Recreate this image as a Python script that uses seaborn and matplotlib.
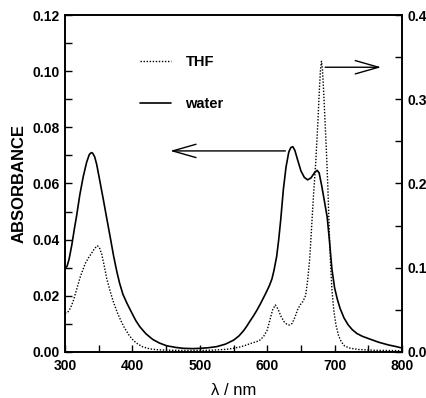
import matplotlib
matplotlib.use("Agg")
import matplotlib.pyplot as plt
import seaborn as sns
from matplotlib.ticker import MultipleLocator, FormatStrFormatter

# spettri: water sull'asse sinistro, THF sull'asse destro
water_nm = [300, 303, 306, 310, 314, 317, 322, 327, 332, 336, 339, 341, 344, 347, 352, 357,
            362, 367, 372, 377, 381, 386, 392, 400, 405, 411, 420, 430, 440, 451, 465, 476,
            490, 500, 512, 525, 538, 550, 558, 565, 570, 575, 580, 585, 590, 597, 603, 607,
            610, 614, 617, 620, 624, 628, 632, 635, 638, 641, 645, 650, 655, 660, 665, 670,
            674, 677, 681, 685, 689, 692, 696, 700, 704, 708, 714, 720, 726, 733, 741, 750,
            765, 780, 790, 800]
water_abs = [0.0298, 0.0305, 0.0330, 0.0380, 0.0440, 0.0482, 0.0560, 0.0624, 0.0675, 0.0703,
             0.0710, 0.0708, 0.0695, 0.0668, 0.0605, 0.0541, 0.0475, 0.0410, 0.0343, 0.0285,
             0.0245, 0.0205, 0.0173, 0.0135, 0.0112, 0.0090, 0.0065, 0.0045, 0.0032, 0.0022,
             0.0016, 0.0013, 0.0012, 0.0013, 0.0015, 0.0019, 0.0028, 0.0042, 0.0057, 0.0076,
             0.0093, 0.0112, 0.0130, 0.0150, 0.0172, 0.0205, 0.0235, 0.0260, 0.0290, 0.0340,
             0.0399, 0.0470, 0.0580, 0.0660, 0.0712, 0.0728, 0.0731, 0.0718, 0.0685, 0.0645,
             0.0622, 0.0613, 0.0620, 0.0638, 0.0647, 0.0638, 0.0590, 0.0535, 0.0480, 0.0405,
             0.0295, 0.0228, 0.0188, 0.0156, 0.0121, 0.0097, 0.0080, 0.0066, 0.0056, 0.0048,
             0.0035, 0.0025, 0.0020, 0.0014]

thf_nm = [300, 304, 308, 312, 317, 323, 330, 335, 340, 344, 348, 351, 354.5, 358, 362, 367,
          372, 378, 383, 388, 395, 400, 406, 415, 426, 440, 460, 480, 500, 520, 540, 550,
          560, 568, 575, 585, 590, 595, 600, 604, 608, 612, 616, 620, 625, 629, 633, 637,
          641, 645, 649, 653, 657, 660, 663, 666, 669, 672, 675, 677, 679, 680.5, 682, 684,
          686, 688, 690, 692, 694, 696, 699, 702, 706, 710, 715, 723, 735, 760, 800]
thf_abs = [0.046, 0.047, 0.052, 0.060, 0.0736, 0.090, 0.105, 0.112, 0.118, 0.123, 0.126,
           0.124, 0.116, 0.103, 0.087, 0.072, 0.059, 0.046, 0.037, 0.029, 0.020, 0.015,
           0.0105, 0.0062, 0.0036, 0.0025, 0.0020, 0.0018, 0.0018, 0.0022, 0.0032, 0.0044,
           0.0060, 0.0080, 0.0100, 0.0125, 0.0145, 0.019, 0.026, 0.038, 0.050, 0.0558,
           0.051, 0.043, 0.036, 0.033, 0.032, 0.034, 0.041, 0.050, 0.056, 0.060, 0.067,
           0.085, 0.110, 0.150, 0.190, 0.225, 0.270, 0.305, 0.335, 0.345, 0.335, 0.305,
           0.270, 0.235, 0.195, 0.145, 0.105, 0.074, 0.048, 0.032, 0.019, 0.012, 0.007,
           0.0045, 0.003, 0.002, 0.0015]

# frecce: (inizio, punta, quota)
freccia_sx = (627, 456, 0.0716)
freccia_dx = (686, 769, 0.338)

sns.set_theme(style="ticks", rc={"axes.edgecolor": "black", "xtick.color": "black",
                                 "ytick.color": "black", "axes.linewidth": 1.2,
                                 "text.color": "black", "axes.labelcolor": "black"})
plt.rcParams["font.family"] = ["Liberation Sans", "DejaVu Sans"]

fig = plt.figure(figsize=(4.26, 3.98), dpi=100)
ax = fig.add_axes([0.1526, 0.1156, 0.7911, 0.8467])
ax2 = ax.twinx()

sns.lineplot(x=water_nm, y=water_abs, ax=ax, color="black", lw=1.2, label="water", legend=False)
sns.lineplot(x=thf_nm, y=thf_abs, ax=ax2, color="black", lw=1.0,
             linestyle=(0, (1, 1.2)), label="THF", legend=False)

ax.set_xlim(300, 800)
ax.set_ylim(0, 0.12)
ax2.set_ylim(0, 0.4)

ax.xaxis.set_major_locator(MultipleLocator(100))
ax.xaxis.set_minor_locator(MultipleLocator(50))
ax.yaxis.set_major_locator(MultipleLocator(0.02))
ax.yaxis.set_minor_locator(MultipleLocator(0.01))
ax.yaxis.set_major_formatter(FormatStrFormatter("%.2f"))
ax2.yaxis.set_major_locator(MultipleLocator(0.1))
ax2.yaxis.set_minor_locator(MultipleLocator(0.05))
ax2.yaxis.set_major_formatter(FormatStrFormatter("%.1f"))

for a in (ax, ax2):
    a.tick_params(which="both", direction="in", length=5, width=1, top=False)
    a.tick_params(which="major", labelsize=10, pad=4)
    for lab in a.get_xticklabels() + a.get_yticklabels():
        lab.set_fontweight("bold")
ax.tick_params(which="both", right=False)
ax.tick_params(axis="x", pad=5)

ax.set_ylabel("ABSORBANCE", fontsize=12, fontweight="bold", labelpad=4)
ax.set_xlabel("λ / nm", fontsize=12, labelpad=7)
ax2.set_ylabel("")

ax.annotate("", xy=(freccia_sx[1], freccia_sx[2]), xytext=(freccia_sx[0], freccia_sx[2]),
            arrowprops=dict(arrowstyle="->,head_length=1.4,head_width=0.4", color="black",
                            lw=1, shrinkA=0, shrinkB=0))
ax2.annotate("", xy=(freccia_dx[1], freccia_dx[2]), xytext=(freccia_dx[0], freccia_dx[2]),
             arrowprops=dict(arrowstyle="->,head_length=1.4,head_width=0.4", color="black",
                             lw=1, shrinkA=0, shrinkB=0))

handles = [ax2.lines[0], ax.lines[0]]
leg = ax2.legend(handles, ["THF", "water"], loc="upper left", bbox_to_anchor=(0.312, 0.88),
                 bbox_transform=fig.transFigure, frameon=False, fontsize=10.5,
                 handlelength=2.1, handletextpad=1.0, labelspacing=1.9, borderpad=0)
for t in leg.get_texts():
    t.set_fontweight("bold")

fig.savefig("out.png", dpi=100)
